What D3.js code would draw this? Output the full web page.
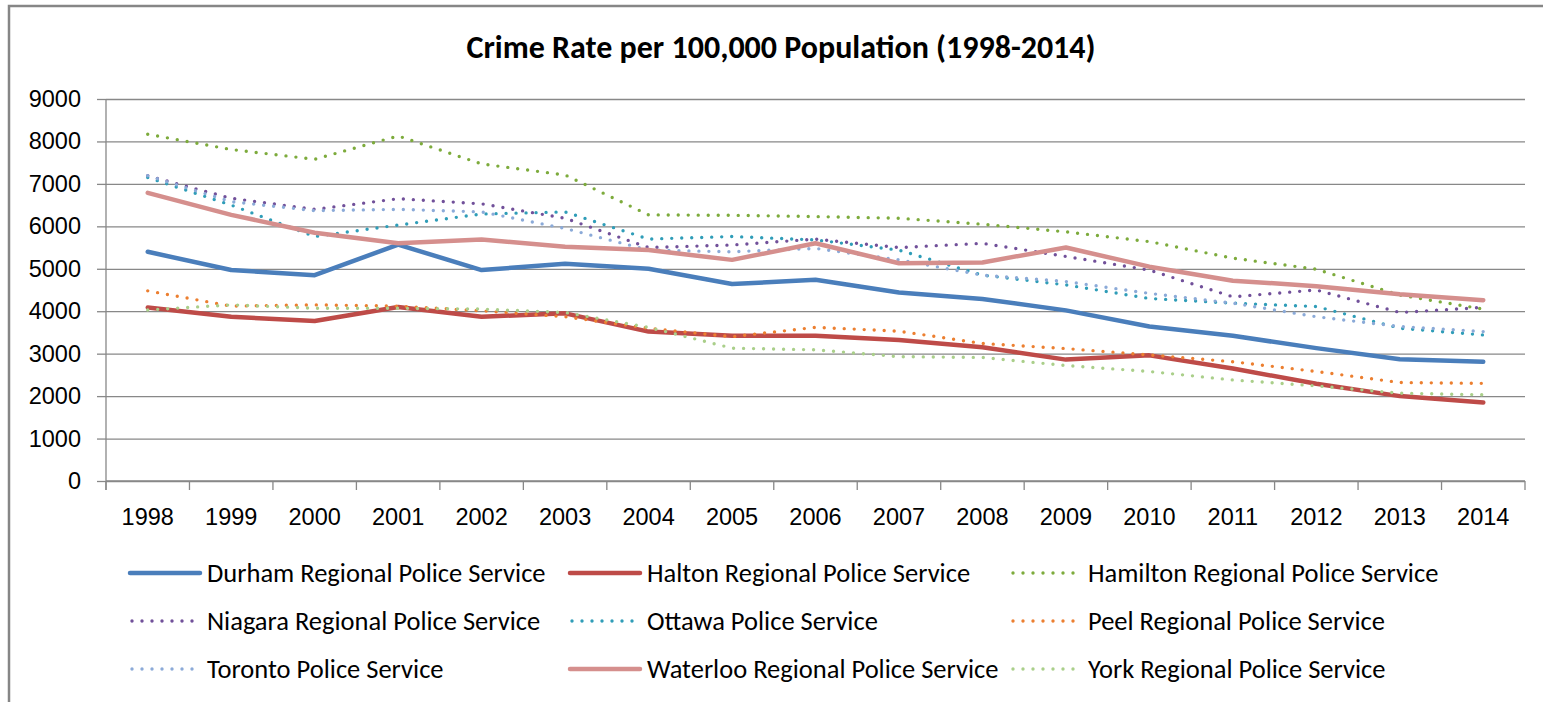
<!DOCTYPE html>
<html>
<head>
<meta charset="utf-8">
<script src="https://cdn.jsdelivr.net/npm/d3@7"></script>
<style>
  body { margin: 0; background: #fff; }
  svg { font-family: Carlito, "Liberation Sans Narrow", "Open Sans", sans-serif; }
</style>
</head>
<body>
<script>
// years on the x axis
const years = ["1998","1999","2000","2001","2002","2003","2004","2005","2006","2007","2008","2009","2010","2011","2012","2013","2014"];
const yTicks = [0,1000,2000,3000,4000,5000,6000,7000,8000,9000];

// values
const durham   = [5400,4970,4850,5570,4970,5120,5000,4640,4740,4440,4290,4020,3640,3420,3130,2870,2810];
const halton   = [4090,3870,3770,4100,3870,3950,3520,3420,3420,3320,3150,2860,2960,2650,2290,2000,1850];
const hamilton = [8170,7810,7580,8130,7470,7210,6270,6260,6230,6190,6050,5870,5640,5250,4990,4380,4050];
const niagara  = [7190,6660,6400,6650,6530,6190,5500,5560,5700,5500,5600,5290,4970,4340,4500,3970,4090];
const ottawa   = [7150,6500,5760,6030,6290,6340,5700,5760,5680,5440,4850,4620,4300,4190,4110,3600,3440];
const peel     = [4480,4120,4150,4120,4010,3870,3600,3400,3620,3530,3240,3120,2970,2810,2580,2320,2300];
const toronto  = [7190,6580,6370,6400,6340,5950,5440,5400,5480,5210,4850,4700,4420,4190,3870,3640,3520];
const waterloo = [6790,6270,5850,5600,5690,5520,5440,5210,5600,5130,5150,5500,5050,4720,4590,4400,4260];
const york     = [4030,4150,4070,4070,4050,3970,3620,3130,3090,2930,2910,2720,2580,2380,2240,2070,2030];

const series = [
  {name: "Durham Regional Police Service",   values: durham,   color: "#4A7EBB", dotted: false},
  {name: "Halton Regional Police Service",   values: halton,   color: "#BE4B48", dotted: false},
  {name: "Hamilton Regional Police Service", values: hamilton, color: "#7DAB3C", dotted: true},
  {name: "Niagara Regional Police Service",  values: niagara,  color: "#71509A", dotted: true},
  {name: "Ottawa Police Service",            values: ottawa,   color: "#2F9DB8", dotted: true},
  {name: "Peel Regional Police Service",     values: peel,     color: "#EC7F30", dotted: true},
  {name: "Toronto Police Service",           values: toronto,  color: "#8BAAD8", dotted: true},
  {name: "Waterloo Regional Police Service", values: waterloo, color: "#D58F8D", dotted: false},
  {name: "York Regional Police Service",     values: york,     color: "#AACF8A", dotted: true}
];

const width = 1543, height = 702;
const svg = d3.select("body").append("svg")
    .attr("width", width)
    .attr("height", height);

// рамка диаграммы
svg.append("rect")
    .attr("x", 9).attr("y", 6)
    .attr("width", 1560).attr("height", 720)
    .attr("fill", "none")
    .attr("stroke", "#868686")
    .attr("stroke-width", 2.5);

const x = d3.scaleBand().domain(years).range([106, 1525]);
const y = d3.scaleLinear().domain([0, 9000]).range([481, 99]);

svg.append("text")
    .attr("x", 781).attr("y", 58)
    .attr("text-anchor", "middle")
    .attr("font-size", 32)
    .attr("font-weight", "bold")
    .attr("fill", "#000")
    .text("Crime Rate per 100,000 Population (1998-2014)");

// горизонтальная сетка + подписи Y
const yAxis = g => g
    .attr("transform", "translate(106,0)")
    .call(d3.axisLeft(y).tickValues(yTicks).tickFormat(d3.format("d")).tickSize(9).tickPadding(16))
    .call(g => g.select(".domain").remove())
    .call(g => g.selectAll(".tick line").clone()
        .attr("x1", 0).attr("x2", 1525 - 106))
    .call(g => g.selectAll("line").attr("stroke", "#888").attr("stroke-width", 1.3))
    .call(g => g.selectAll("text").attr("font-size", 23.5).attr("fill", "#000")
        .attr("font-family", null));

svg.append("g").call(yAxis);

// ось X с делениями между категориями
const xAxis = g => g
    .attr("transform", "translate(0,481)")
    .call(d3.axisBottom(x).tickSize(0).tickPadding(27))
    .call(g => g.select(".domain").remove())
    .call(g => g.selectAll("text").attr("font-size", 23.5).attr("fill", "#000")
        .attr("font-family", null));

svg.append("g").call(xAxis);

const bounds = years.map(d => x(d)).concat([x(years[years.length - 1]) + x.bandwidth()]);
svg.append("g")
  .selectAll("line")
  .data(bounds)
  .join("line")
    .attr("x1", d => d).attr("x2", d => d)
    .attr("y1", 481).attr("y2", 490)
    .attr("stroke", "#888").attr("stroke-width", 1.3);

svg.append("line")
    .attr("x1", 106).attr("x2", 106)
    .attr("y1", y(9000)).attr("y2", 490)
    .attr("stroke", "#888").attr("stroke-width", 1.3);
svg.append("line")
    .attr("x1", 106).attr("x2", 1525)
    .attr("y1", y(0)).attr("y2", y(0))
    .attr("stroke", "#888").attr("stroke-width", 1.3);

const line = d3.line()
    .x((d, i) => x(years[i]) + x.bandwidth() / 2)
    .y(d => y(d));

const styleLine = (sel) => sel
    .attr("fill", "none")
    .attr("stroke", d => d.color)
    .attr("stroke-linecap", "round")
    .attr("stroke-linejoin", "round")
    .attr("stroke-width", d => d.dotted ? 3.4 : 4.5)
    .attr("stroke-dasharray", d => d.dotted ? "0 10" : null);

svg.append("g")
  .selectAll("path")
  .data(series)
  .join("path")
    .attr("d", d => line(d.values))
    .call(styleLine);

// легенда: 3 колонки, 3 строки
const colX = [130, 570, 1011];
const rowY = [573, 621, 669];
const legend = svg.append("g")
  .selectAll("g")
  .data(series)
  .join("g")
    .attr("transform", (d, i) => `translate(${colX[i % 3]},${rowY[Math.floor(i / 3)]})`);

legend.append("path")
    .attr("d", d => d.dotted ? "M2,0H66" : "M0,0H70")
    .call(styleLine);

legend.append("text")
    .attr("x", 77)
    .attr("dy", "0.35em")
    .attr("font-size", 26.5)
    .attr("fill", "#000")
    .text(d => d.name);
</script>
</body>
</html>
